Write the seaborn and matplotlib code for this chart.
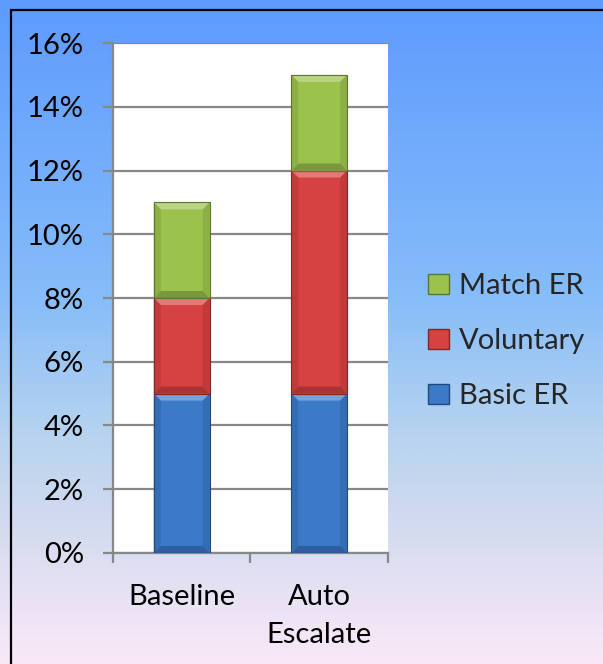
import numpy as np
import pandas as pd
import matplotlib
matplotlib.use("Agg")
import matplotlib.pyplot as plt
import seaborn as sns
from matplotlib.colors import LinearSegmentedColormap, to_rgb
from matplotlib.patches import Polygon, Rectangle, Patch

# data (percent)
scenarios = ["Baseline", "Auto\nEscalate"]
basic_er = [5, 5]
voluntary = [3, 7]
match_er = [3, 3]
series_names = ["Basic ER", "Voluntary", "Match ER"]
series_colors = ["#3b79c9", "#d64141", "#9cc24e"]

sns.set_theme(style="white")
plt.rcParams["font.family"] = ["Lato", "DejaVu Sans"]

fig = plt.figure(figsize=(6.03, 6.64), dpi=100)

# gradient background (top blue -> bottom pink)
bg = fig.add_axes([0, 0, 1, 1], zorder=-10)
grad = LinearSegmentedColormap.from_list("bg", [
    (0.0, "#5d9bfe"), (0.45, "#86bdf9"), (0.66, "#b8d4ef"),
    (0.80, "#d4dbef"), (0.92, "#ece4f5"), (1.0, "#fae8f8")])
bg.imshow(np.linspace(0, 1, 256).reshape(-1, 1), aspect="auto", cmap=grad,
          extent=[0, 1, 0, 1], origin="upper")
bg.set_xlim(0, 1)
bg.set_ylim(0, 1)
bg.axis("off")
fig.patches.append(Rectangle((0.018, -0.05), 1.1, 0.035 + 1.0, transform=fig.transFigure,
                             fill=False, edgecolor="black", linewidth=1.6))

ax = fig.add_axes([0.1874, 0.1672, 0.4560, 0.7680])
ax.set_facecolor("white")

df = pd.DataFrame({"scenario": scenarios, "Basic ER": basic_er,
                   "Voluntary": voluntary, "Match ER": match_er})
layers = []
bottoms = np.zeros(len(df))
for name in series_names:
    layers.append((name, bottoms.copy(), bottoms + df[name].values / 100))
    bottoms = bottoms + df[name].values / 100

# draw tallest first so lower segments sit on top
for (name, lo, hi), col in reversed(list(zip(layers, series_colors))):
    tmp = pd.DataFrame({"scenario": scenarios, "val": hi})
    sns.barplot(data=tmp, x="scenario", y="val", color=col, width=0.407,
                saturation=1, edgecolor="none", ax=ax, zorder=3)

ax.set_ylim(0, 0.16)
ax.set_xlim(-0.5, 1.5)

# bevel look on each segment
px_x = ax.transData.transform([(1, 0)])[0][0] - ax.transData.transform([(0, 0)])[0][0]
px_y = ax.transData.transform([(0, 1)])[0][1] - ax.transData.transform([(0, 0)])[0][1]
bx = 7 / px_x
by = 7 / px_y
for (name, lo, hi), col in zip(layers, series_colors):
    c = np.array(to_rgb(col))
    light = np.clip(c + (1 - c) * 0.3, 0, 1)
    dark = c * 0.78
    side = c * 0.9
    for i in range(len(scenarios)):
        x0 = i - 0.407 / 2
        x1 = i + 0.407 / 2
        y0, y1 = lo[i], hi[i]
        ax.add_patch(Polygon([(x0, y1), (x1, y1), (x1 - bx, y1 - by), (x0 + bx, y1 - by)],
                             closed=True, facecolor=light, edgecolor="none", zorder=4))
        ax.add_patch(Polygon([(x0, y0), (x1, y0), (x1 - bx, y0 + by), (x0 + bx, y0 + by)],
                             closed=True, facecolor=dark, edgecolor="none", zorder=4))
        ax.add_patch(Polygon([(x1, y0), (x1, y1), (x1 - bx, y1 - by), (x1 - bx, y0 + by)],
                             closed=True, facecolor=side, edgecolor="none", zorder=4))
        ax.add_patch(Polygon([(x0, y0), (x0, y1), (x0 + bx, y1 - by), (x0 + bx, y0 + by)],
                             closed=True, facecolor=side, edgecolor="none", zorder=4))
        ax.add_patch(Rectangle((x0, y0), 0.407, y1 - y0, fill=False,
                               edgecolor=c * 0.6, linewidth=0.8, zorder=5))

# grid and axes
ax.set_yticks(np.arange(0, 0.161, 0.02))
ax.set_yticklabels([f"{v}%" for v in range(0, 17, 2)])
ax.yaxis.grid(True, color="#888888", linewidth=1.6, zorder=1)
ax.set_axisbelow(True)
for s in ["top", "right"]:
    ax.spines[s].set_visible(False)
for s in ["left", "bottom"]:
    ax.spines[s].set_color("#888888")
    ax.spines[s].set_linewidth(1.6)
ax.set_xlabel("")
ax.set_ylabel("")
ax.tick_params(axis="y", length=7, width=1.6, color="#888888", pad=14,
               labelsize=21, labelcolor="black", left=True)
ax.set_xticks([0, 1])
ax.set_xticklabels(scenarios, linespacing=1.6)
ax.tick_params(axis="x", which="major", length=0, pad=22, labelsize=21, labelcolor="black")
ax.set_xticks([-0.5, 0.5, 1.5], minor=True)
ax.tick_params(axis="x", which="minor", length=7, width=1.6, color="#888888", bottom=True)

handles = [Patch(facecolor=c, edgecolor=np.array(to_rgb(c)) * 0.6) for c in series_colors]
leg = fig.legend(handles[::-1], series_names[::-1], loc="center left",
                 bbox_to_anchor=(0.667, 0.486), frameon=False, fontsize=21,
                 handlelength=0.7, handleheight=0.7, handletextpad=0.35,
                 labelspacing=1.0)

fig.savefig("out.png", dpi=100)
